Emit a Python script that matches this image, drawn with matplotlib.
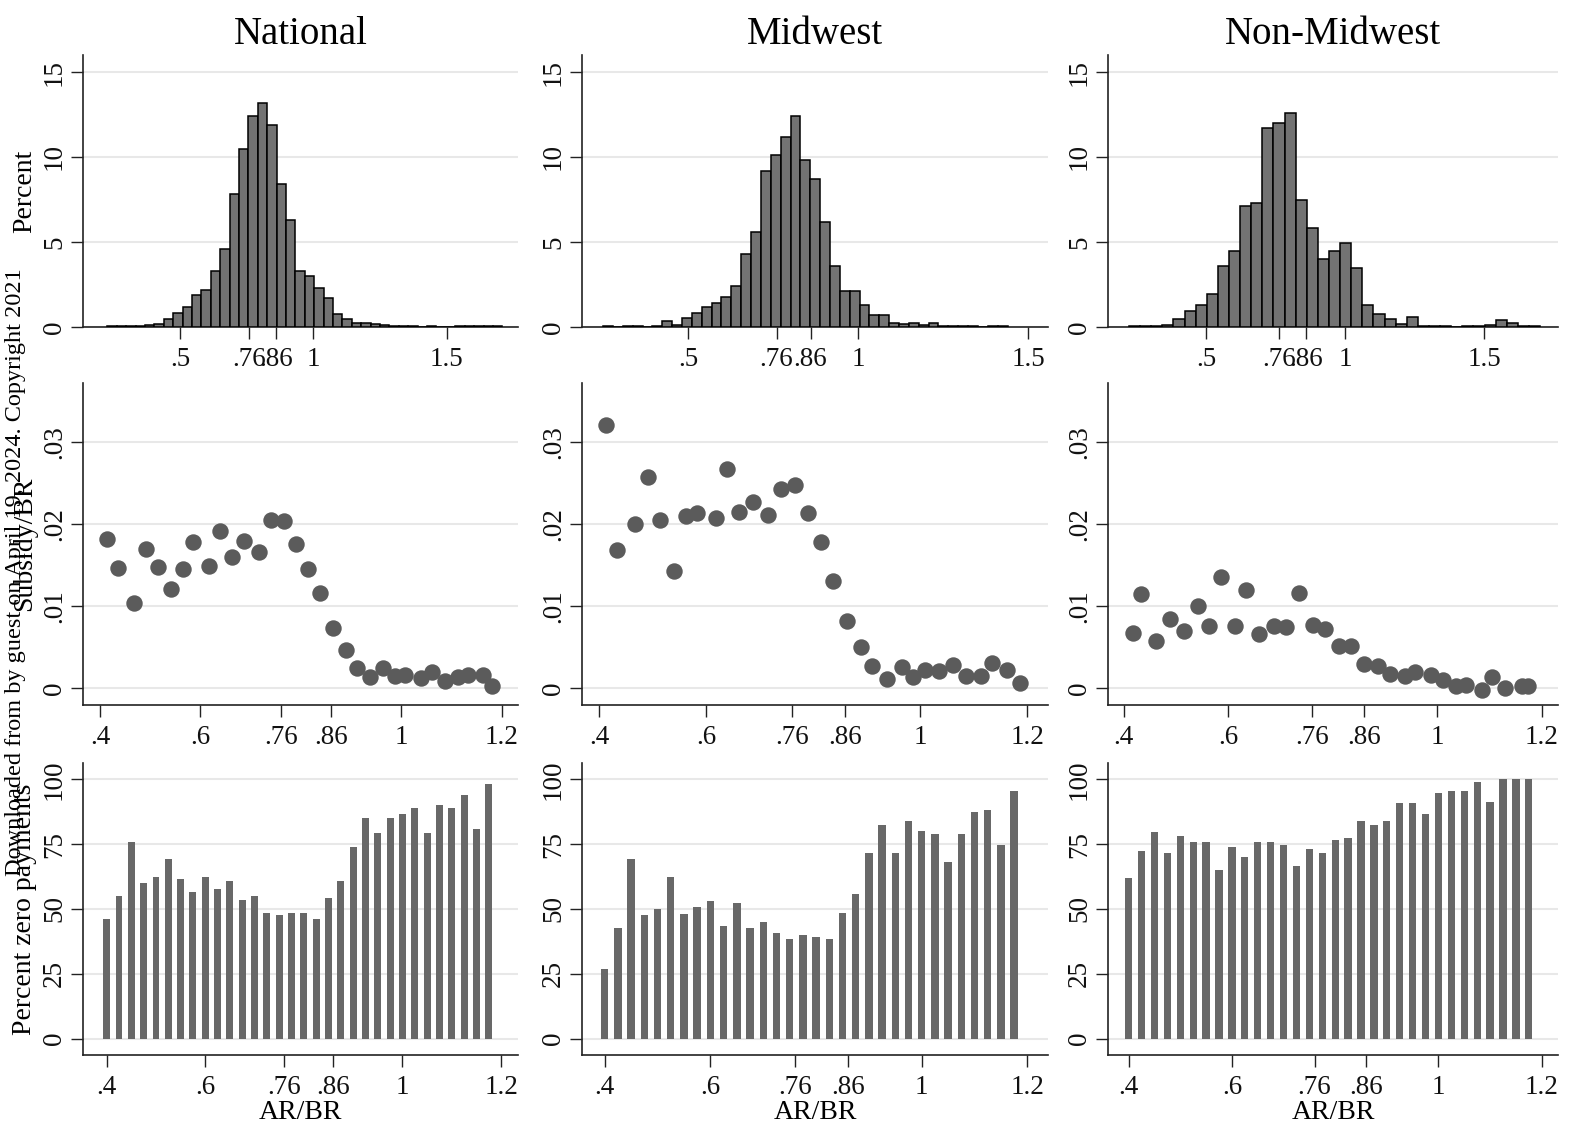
import numpy as np
import matplotlib
matplotlib.use("Agg")
import matplotlib.pyplot as plt

plt.rcParams['font.family'] = ['Liberation Serif', 'DejaVu Serif']

# Data
titles = ["National", "Midwest", "Non-Midwest"]
ylabels = ["Percent", "Subsidy/BR", "Percent zero payments"]

# histograms of AR/BR (percent per bin), bin start and bin width per region
hist_nat = [0.05, 0.05, 0.05, 0.08, 0.12, 0.2, 0.5, 0.8, 1.2, 1.9, 2.2, 3.3, 4.6, 7.8,
            10.5, 12.4, 13.2, 11.9, 8.4, 6.3, 3.3, 3.0, 2.3, 1.7, 0.75, 0.45, 0.25, 0.25,
            0.2, 0.1, 0.05, 0.05, 0.05, 0, 0.05, 0, 0, 0.05, 0.08, 0.05, 0.03, 0.03]
hist_mw = [0.05, 0, 0.03, 0.03, 0.02, 0.05, 0.35, 0.1, 0.55, 0.8, 1.15, 1.4, 1.75, 2.4,
           4.3, 5.6, 9.2, 10.1, 11.2, 12.4, 9.8, 8.7, 6.2, 3.6, 2.1, 2.1, 1.3, 0.7, 0.7,
           0.25, 0.2, 0.25, 0.1, 0.25, 0.05, 0.03, 0.03, 0.03, 0, 0.03, 0.05]
hist_nmw = [0.05, 0.05, 0.05, 0.1, 0.5, 0.95, 1.3, 1.95, 3.6, 4.5, 7.1, 7.3, 11.7, 12.0,
            12.6, 7.5, 5.8, 4.0, 4.5, 4.95, 3.5, 1.3, 0.75, 0.45, 0.2, 0.6, 0.05, 0.03,
            0.03, 0, 0.05, 0.03, 0.1, 0.4, 0.25, 0.05, 0.05]
hist_start = [0.2265, 0.250, 0.221]
hist_width = [0.0353, 0.0290, 0.040]

# binned scatter: subsidy / BR
sc_x_nat = [0.4146, 0.4365, 0.468, 0.4922, 0.516, 0.5414, 0.5647, 0.5859, 0.6171, 0.639,
            0.6623, 0.6875, 0.7167, 0.74, 0.7672, 0.7904, 0.815, 0.8382, 0.8635, 0.8894,
            0.9113, 0.9379, 0.9645, 0.9877, 1.0076, 1.0388, 1.0608, 1.0873, 1.1139,
            1.1338, 1.1637, 1.1803]
sc_y_nat = [0.01818, 0.01463, 0.01035, 0.01696, 0.01471, 0.01207, 0.01455, 0.01785,
            0.01492, 0.01912, 0.01594, 0.01789, 0.01655, 0.02054, 0.02034, 0.01757,
            0.01451, 0.01158, 0.0073, 0.00465, 0.0024, 0.00126, 0.0024, 0.00139,
            0.00159, 0.00118, 0.00192, 0.00077, 0.00126, 0.00159, 0.00159, 0.00024]
sc_x_mw = [0.4137, 0.4336, 0.4673, 0.491, 0.5134, 0.5402, 0.562, 0.5838, 0.6193, 0.638,
           0.6611, 0.6879, 0.7159, 0.7396, 0.7657, 0.7907, 0.8143, 0.8374, 0.8623, 0.8885,
           0.909, 0.9371, 0.9651, 0.9857, 1.0087, 1.0355, 1.0617, 1.0854, 1.1134, 1.1333,
           1.1626, 1.1863]
sc_y_mw = [0.03208, 0.01679, 0.02001, 0.02576, 0.02054, 0.01431, 0.02095, 0.02136,
           0.02075, 0.02666, 0.02148, 0.0227, 0.02103, 0.02421, 0.0247, 0.02128,
           0.01777, 0.01308, 0.00819, 0.00497, 0.00261, 0.0011, 0.00253, 0.00126,
           0.0022, 0.00208, 0.00281, 0.00139, 0.00139, 0.00302, 0.0022, 0.00057]
sc_x_nmw = [0.4178, 0.4331, 0.4625, 0.488, 0.5147, 0.5415, 0.5632, 0.5867, 0.6122, 0.6339,
            0.6581, 0.6868, 0.711, 0.7346, 0.762, 0.7856, 0.8111, 0.8347, 0.8602, 0.8857,
            0.9099, 0.9386, 0.9577, 0.9883, 1.0119, 1.0361, 1.0552, 1.0851, 1.1055,
            1.1298, 1.1616, 1.1744]
sc_y_nmw = [0.00668, 0.01145, 0.00575, 0.00844, 0.00689, 0.01003, 0.00758, 0.01353,
            0.0075, 0.01198, 0.0066, 0.0075, 0.00742, 0.01158, 0.00762, 0.00717,
            0.00505, 0.00505, 0.00289, 0.00269, 0.00171, 0.00147, 0.00192, 0.00151,
            0.00098, 0.00024, 0.00037, -0.00024, 0.00126, 0.0, 0.00016, 0.00016]

# percent zero payments by AR/BR bin
bar_x = [0.4, 0.425, 0.45, 0.475, 0.5, 0.525, 0.55, 0.575, 0.6, 0.625, 0.65, 0.675,
         0.7, 0.725, 0.75, 0.775, 0.8, 0.825, 0.85, 0.875, 0.9, 0.925, 0.95, 0.975,
         1.0, 1.025, 1.05, 1.075, 1.1, 1.125, 1.15, 1.175]
zero_nat = [46.0, 55.0, 76.0, 60.2, 62.5, 69.2, 61.7, 56.7, 62.5, 57.6, 60.8, 53.3, 55.0,
            48.3, 47.6, 48.3, 48.3, 46.0, 54.2, 60.8, 74.0, 85.0, 79.2, 85.0, 86.5, 89.1,
            79.2, 90.0, 89.1, 94.1, 80.8, 98.2]
zero_mw = [26.7, 42.5, 69.2, 47.6, 50.0, 62.5, 48.1, 50.9, 53.2, 43.4, 52.4, 42.5, 45.1,
           40.9, 38.3, 40.1, 39.2, 38.4, 48.3, 55.8, 71.5, 82.3, 71.5, 83.9, 79.9, 79.0,
           68.3, 79.0, 87.4, 88.2, 74.8, 95.6]
zero_nmw = [61.8, 72.5, 79.8, 71.5, 78.1, 75.7, 75.7, 65.0, 74.0, 69.9, 75.7, 75.7, 74.7,
            66.6, 73.1, 71.5, 76.6, 77.4, 83.9, 82.3, 83.9, 90.7, 90.7, 86.5, 94.7, 95.6,
            95.6, 98.8, 91.4, 100, 100, 100]

hists = [hist_nat, hist_mw, hist_nmw]
scat = [(sc_x_nat, sc_y_nat), (sc_x_mw, sc_y_mw), (sc_x_nmw, sc_y_nmw)]
zeros = [zero_nat, zero_mw, zero_nmw]

# ticks
hx_ticks = [0.5, 0.76, 0.86, 1, 1.5]
hx_labels = [".5", ".76", ".86", "1", "1.5"]
x_ticks = [0.4, 0.6, 0.76, 0.86, 1, 1.2]
x_labels = [".4", ".6", ".76", ".86", "1", "1.2"]
y_ticks = [[0, 5, 10, 15], [0, 0.01, 0.02, 0.03], [0, 25, 50, 75, 100]]
y_labels = [["0", "5", "10", "15"], ["0", ".01", ".02", ".03"], ["0", "25", "50", "75", "100"]]

# layout (pixels of the 1583x1131 canvas)
W, H = 1583, 1131
cols = [(83, 518), (582, 1048), (1108, 1558)]
rows = [(55, 327), (383, 705), (763, 1055)]
xlims = [[(0.135, 1.768), (0.188, 1.558), (0.1455, 1.7655)],
         [(0.366, 1.2327), (0.368, 1.2387), (0.370, 1.231)],
         [(0.352, 1.2343), (0.357, 1.239), (0.360, 1.2315)]]
ylims = [(0, 16.0), (-0.0021, 0.0372), (-6.3, 106.3)]

fig = plt.figure(figsize=(W / 100, H / 100), dpi=100)

for r in range(3):
    for c in range(3):
        x0, x1 = cols[c]
        y0, y1 = rows[r]
        ax = fig.add_axes([x0 / W, 1 - y1 / H, (x1 - x0) / W, (y1 - y0) / H])

        if r == 0:
            n = len(hists[c])
            edges = hist_start[c] + hist_width[c] * np.arange(n)
            ax.bar(edges, hists[c], width=hist_width[c], align='edge',
                   color='#737373', edgecolor='black', linewidth=1.1, zorder=3)
            ax.set_xticks(hx_ticks)
            ax.set_xticklabels(hx_labels)
        elif r == 1:
            ax.scatter(scat[c][0], scat[c][1], s=140, color='#5b5b5b',
                       linewidths=0, zorder=3, clip_on=False)
            ax.set_xticks(x_ticks)
            ax.set_xticklabels(x_labels)
        else:
            ax.bar(bar_x, zeros[c], width=0.014, color='#686868', zorder=3)
            ax.set_xticks(x_ticks)
            ax.set_xticklabels(x_labels)
            ax.set_xlabel("AR/BR", fontsize=20, labelpad=0)

        ax.set_xlim(xlims[r][c])
        ax.set_ylim(ylims[r])
        ax.set_yticks(y_ticks[r])
        ax.set_yticklabels(y_labels[r], rotation=90, va='center')

        # Stata-like look: only left and bottom axis lines, light grid
        for side in ['top', 'right']:
            ax.spines[side].set_visible(False)
        for side in ['left', 'bottom']:
            ax.spines[side].set_color('#222222')
            ax.spines[side].set_linewidth(1.2)
        ax.grid(axis='y', color='#e8e8e8', linewidth=1.5, zorder=0)
        ax.set_axisbelow(True)
        ax.tick_params(axis='both', direction='out', length=8.5, width=1,
                       color='#222222', labelsize=19.5, labelcolor='#111111')
        ax.tick_params(axis='x', pad=6)
        ax.tick_params(axis='y', pad=3)

        if r == 0:
            ax.set_title(titles[c], fontsize=28, pad=8)
        if c == 0:
            ax.set_ylabel(ylabels[r], fontsize=20)
            ax.yaxis.set_label_coords(-0.106, 0.5)

# watermark along the left edge
fig.text(16 / W, 1 - 572 / H, "Downloaded from by guest on April 19, 2024. Copyright 2021",
         rotation=90, ha='center', va='center', fontsize=17.5, color='black')

fig.savefig("out.png", dpi=100)
plt.close()
